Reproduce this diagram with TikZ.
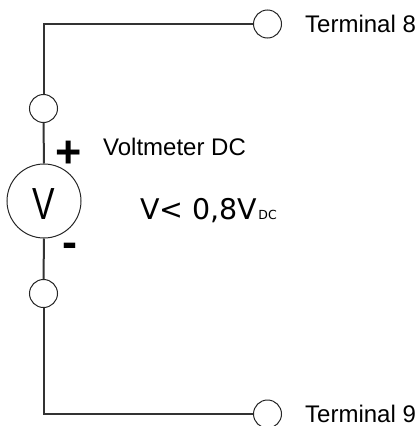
\documentclass[tikz,border=0pt]{standalone}
\usepackage{fontspec}
\setmainfont{Liberation Sans}
\newfontfamily\dvfont{DejaVu Sans}
\begin{document}
\begin{tikzpicture}[x=1pt,y=-1pt,
  wire/.style={line width=2pt,draw=black!80},
  term/.style={circle,draw=black!85,line width=1pt,minimum size=28pt,inner sep=0pt},
  meter/.style={circle,draw=black!85,line width=1pt,minimum size=74pt,inner sep=0pt},
  lbl/.style={inner sep=0pt,font=\fontsize{24}{28}\selectfont}]
\useasboundingbox (0,0) rectangle (420,426);
\node[term] (t8) at (267.5,24) {};
\node[term] (t9) at (267.5,414) {};
\node[term] (c1) at (43.5,108.5) {};
\node[term] (c2) at (43.5,293.5) {};
\node[meter] (vm) at (44,201) {};
\node[inner sep=0pt] (vl) at (43.5,204) {\scalebox{0.75}[1]{\fontsize{45}{50}\selectfont V}};
\draw[wire] (t8.west) -| (c1.north);
\draw[wire] (c1.south) -- (vm.north);
\draw[wire] (vm.south) -- (c2.north);
\draw[wire] (c2.south) |- (t9.west);
\node[lbl,anchor=west] (l8) at (305,23.5) {Terminal 8};
\node[lbl,anchor=west] (l9) at (305,413.5) {Terminal 9};
\node[lbl,anchor=west] (lv) at (103,147) {Voltmeter DC};
\node[inner sep=0pt,font=\fontsize{45}{50}\selectfont\bfseries] (plus) at (69,154) {+};
\node[inner sep=0pt,font=\fontsize{45}{50}\selectfont\bfseries] (minus) at (69.5,250) {-};
\node[inner sep=0pt,anchor=base west,font=\dvfont\fontsize{28.5}{32}\selectfont] (eq) at (140,219) {V<~0,8V\kern1pt{\fontsize{12.5}{14}\selectfont DC}};
\end{tikzpicture}
\end{document}
